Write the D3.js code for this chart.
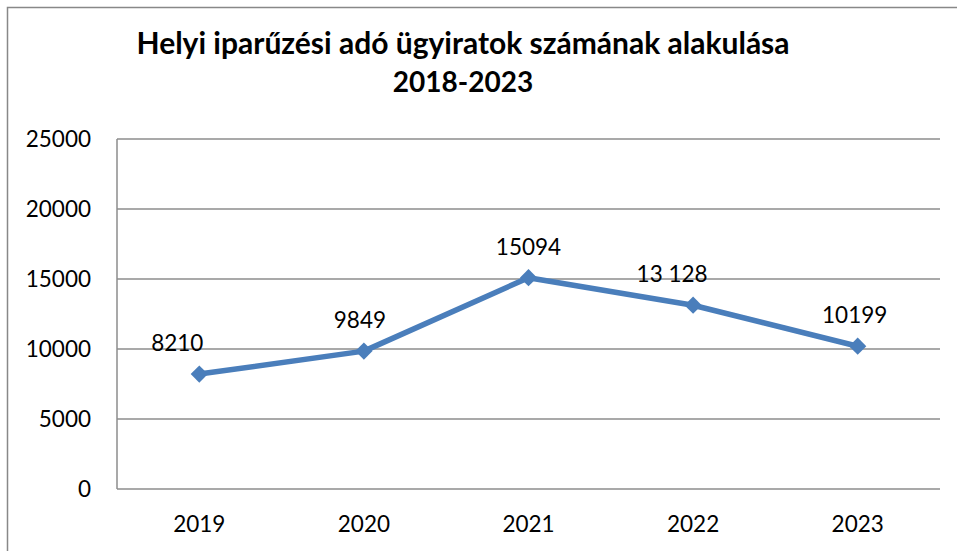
<!DOCTYPE html>
<html>
<head>
<meta charset="utf-8">
<script src="https://cdn.jsdelivr.net/npm/d3@7"></script>
<style>
  body { margin: 0; background: #fff; }
  svg { display: block; font-family: Lato, "Open Sans", sans-serif; }
</style>
</head>
<body>
<div id="chart"></div>
<script>
// data
var years = ["2019", "2020", "2021", "2022", "2023"];
var counts = [8210, 9849, 15094, 13128, 10199];
var labels = ["8210", "9849", "15094", "13 128", "10199"];
var yTicks = [0, 5000, 10000, 15000, 20000, 25000];

var width = 957, height = 551;
var plot = { left: 117, right: 940, top: 139, bottom: 489 };
var labelShift = [-22, -4, 0, -21, -3]; // label nudges, as in the original

var svg = d3.select("#chart").append("svg")
    .attr("width", width)
    .attr("height", height);

// outer frame
svg.append("rect")
    .attr("x", 7.5).attr("y", 7.5)
    .attr("width", width + 10).attr("height", height + 10)
    .attr("fill", "none")
    .attr("stroke", "#888")
    .attr("stroke-width", 1.5);

var x = d3.scaleBand().domain(years).range([plot.left, plot.right]);
var y = d3.scaleLinear().domain([0, 25000]).range([plot.bottom, plot.top]);

// gridlines
svg.append("g").selectAll("line")
    .data(yTicks)
    .enter().append("line")
    .attr("x1", plot.left).attr("x2", plot.right)
    .attr("y1", function(d) { return y(d); })
    .attr("y2", function(d) { return y(d); })
    .attr("stroke", "#8c8c8c")
    .attr("stroke-width", 1.5);

// y axis line
svg.append("line")
    .attr("x1", plot.left).attr("x2", plot.left)
    .attr("y1", plot.top).attr("y2", plot.bottom)
    .attr("stroke", "#8c8c8c")
    .attr("stroke-width", 1.5);

// y tick labels
svg.append("g").selectAll("text")
    .data(yTicks)
    .enter().append("text")
    .attr("x", 91)
    .attr("y", function(d) { return y(d); })
    .attr("dy", "0.35em")
    .attr("text-anchor", "end")
    .attr("font-size", 22.5)
    .attr("fill", "#000")
    .text(function(d) { return d; });

// x labels
svg.append("g").selectAll("text")
    .data(years)
    .enter().append("text")
    .attr("x", function(d) { return x(d) + x.bandwidth() / 2; })
    .attr("y", 532)
    .attr("text-anchor", "middle")
    .attr("font-size", 22.5)
    .attr("fill", "#000")
    .text(function(d) { return d; });

// line
var pts = counts.map(function(v, i) { return [x(years[i]) + x.bandwidth() / 2, y(v)]; });

svg.append("path")
    .datum(pts)
    .attr("d", d3.line())
    .attr("fill", "none")
    .attr("stroke", "#4a7ebb")
    .attr("stroke-width", 5.5)
    .attr("stroke-linejoin", "round");

svg.append("g").selectAll("path")
    .data(pts)
    .enter().append("path")
    .attr("d", d3.symbol().type(d3.symbolDiamond2).size(190))
    .attr("transform", function(d) { return "translate(" + d[0] + "," + d[1] + ")"; })
    .attr("fill", "#4a7ebb");

// data labels
svg.append("g").selectAll("text")
    .data(pts)
    .enter().append("text")
    .attr("x", function(d, i) { return d[0] + labelShift[i]; })
    .attr("y", function(d) { return d[1] - 23; })
    .attr("text-anchor", "middle")
    .attr("font-size", 22.5)
    .attr("fill", "#000")
    .text(function(d, i) { return labels[i]; });

// title
svg.append("text")
    .attr("x", 463).attr("y", 54)
    .attr("text-anchor", "middle")
    .attr("font-size", 30)
    .attr("font-weight", "bold")
    .attr("fill", "#000")
    .text("Helyi iparűzési adó ügyiratok számának alakulása");
svg.append("text")
    .attr("x", 463).attr("y", 92)
    .attr("text-anchor", "middle")
    .attr("font-size", 28)
    .attr("font-weight", "bold")
    .attr("fill", "#000")
    .text("2018-2023");
</script>
</body>
</html>
